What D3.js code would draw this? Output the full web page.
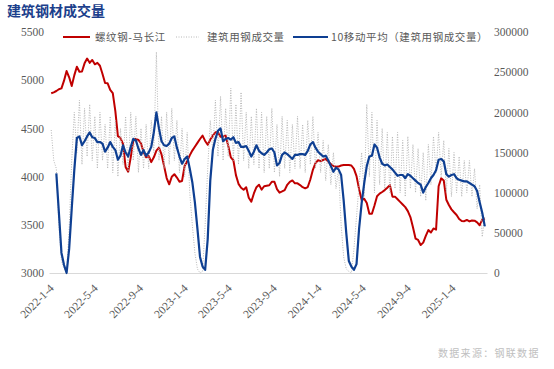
<!DOCTYPE html>
<html>
<head>
<meta charset="utf-8">
<title>建筑钢材成交量</title>
<script src="https://cdn.jsdelivr.net/npm/d3@7"></script>
<style>
  body { margin: 0; background: #fff; }
</style>
</head>
<body>
<svg id="chart" width="554" height="369"></svg>
<script>
// weekly sampling of the daily series
var dates = [
  "2022-01-04","2022-01-11","2022-01-18","2022-01-25","2022-02-01","2022-02-08","2022-02-15","2022-02-22","2022-03-01","2022-03-08",
  "2022-03-15","2022-03-22","2022-03-29","2022-04-05","2022-04-12","2022-04-19","2022-04-26","2022-05-03","2022-05-10","2022-05-17",
  "2022-05-24","2022-05-31","2022-06-07","2022-06-14","2022-06-21","2022-06-28","2022-07-05","2022-07-12","2022-07-19","2022-07-26",
  "2022-08-02","2022-08-09","2022-08-16","2022-08-23","2022-08-30","2022-09-06","2022-09-13","2022-09-20","2022-09-27","2022-10-04",
  "2022-10-11","2022-10-18","2022-10-25","2022-11-01","2022-11-08","2022-11-15","2022-11-22","2022-11-29","2022-12-06","2022-12-13",
  "2022-12-20","2022-12-27","2023-01-03","2023-01-10","2023-01-17","2023-01-24","2023-01-31","2023-02-07","2023-02-14","2023-02-21",
  "2023-02-28","2023-03-07","2023-03-14","2023-03-21","2023-03-28","2023-04-04","2023-04-11","2023-04-18","2023-04-25","2023-05-02",
  "2023-05-09","2023-05-16","2023-05-23","2023-05-30","2023-06-06","2023-06-13","2023-06-20","2023-06-27","2023-07-04","2023-07-11",
  "2023-07-18","2023-07-25","2023-08-01","2023-08-08","2023-08-15","2023-08-22","2023-08-29","2023-09-05","2023-09-12","2023-09-19",
  "2023-09-26","2023-10-03","2023-10-10","2023-10-17","2023-10-24","2023-10-31","2023-11-07","2023-11-14","2023-11-21","2023-11-28",
  "2023-12-05","2023-12-12","2023-12-19","2023-12-26","2024-01-02","2024-01-09","2024-01-16","2024-01-23","2024-01-30","2024-02-06",
  "2024-02-13","2024-02-20","2024-02-27","2024-03-05","2024-03-12","2024-03-19","2024-03-26","2024-04-02","2024-04-09","2024-04-16",
  "2024-04-23","2024-04-30","2024-05-07","2024-05-14","2024-05-21","2024-05-28","2024-06-04","2024-06-11","2024-06-18","2024-06-25",
  "2024-07-02","2024-07-09","2024-07-16","2024-07-23","2024-07-30","2024-08-06","2024-08-13","2024-08-20","2024-08-27","2024-09-03",
  "2024-09-10","2024-09-17","2024-09-24","2024-10-01","2024-10-08","2024-10-15","2024-10-22","2024-10-29","2024-11-05","2024-11-12",
  "2024-11-19","2024-11-26","2024-12-03","2024-12-10","2024-12-17","2024-12-24","2024-12-31","2025-01-07","2025-01-14","2025-01-21",
  "2025-01-28","2025-02-04","2025-02-11","2025-02-18","2025-02-25","2025-03-04","2025-03-11","2025-03-18","2025-03-25","2025-04-01"
];

// 螺纹钢-马长江 (left axis, yuan/t)
var rebarPrice = [
  4864,4874,4888,4906,4915,4995,5095,5030,4940,5050,
  5140,5088,5090,5175,5225,5180,5210,5165,5180,5150,
  5065,4970,4968,4900,4865,4680,4420,4400,4340,4100,
  4050,4200,4375,4392,4380,4345,4255,4200,4215,4150,
  4200,4270,4300,4230,4110,3985,3920,3999,4025,3990,
  3947,3955,4110,4160,4220,4270,4310,4350,4390,4425,
  4370,4330,4383,4425,4460,4460,4414,4414,4425,4320,
  4200,4170,4015,3925,3885,3863,3890,3780,3740,3825,
  3890,3915,3865,3900,3905,3910,3947,3947,3870,3833,
  3846,3860,3915,3945,3960,3930,3930,3912,3890,3878,
  3892,3970,4070,4140,4170,4160,4172,4183,4155,4130,
  4110,4103,4104,4115,4120,4120,4120,4115,4080,4005,
  3870,3757,3770,3725,3615,3615,3700,3796,3823,3840,
  3860,3885,3912,3792,3792,3765,3738,3710,3683,3642,
  3580,3475,3357,3343,3290,3315,3385,3445,3420,3462,
  3450,3900,3982,3960,3760,3705,3660,3630,3602,3560,
  3540,3538,3550,3535,3545,3543,3525,3495,3552,3567
];

// 建筑用钢成交量 (right axis, tonnes)
var tradeVol = [
  178000,140000,130000,60000,15000,5000,2000,55000,140000,200000,
  150000,215000,135000,205000,145000,210000,140000,195000,130000,200000,
  140000,185000,130000,195000,125000,190000,120000,180000,135000,195000,
  125000,200000,140000,195000,125000,180000,130000,185000,130000,190000,
  150000,275000,140000,195000,130000,200000,135000,205000,140000,190000,
  125000,180000,120000,175000,100000,60000,25000,5000,0,2000,
  60000,130000,190000,150000,215000,145000,220000,140000,205000,145000,
  230000,140000,210000,135000,225000,140000,200000,130000,195000,135000,
  205000,130000,200000,125000,195000,130000,205000,125000,185000,120000,
  195000,130000,190000,125000,185000,130000,195000,130000,185000,125000,
  190000,135000,195000,130000,175000,125000,165000,115000,160000,110000,
  150000,105000,130000,60000,20000,5000,2000,0,30000,70000,
  110000,150000,95000,210000,120000,200000,100000,190000,110000,180000,
  105000,175000,100000,170000,105000,175000,100000,165000,95000,170000,
  105000,160000,100000,155000,95000,150000,90000,160000,110000,170000,
  125000,175000,120000,165000,100000,155000,95000,150000,100000,145000,
  95000,140000,100000,140000,95000,130000,80000,110000,45000,70000
];

// 10移动平均（建筑用钢成交量） (right axis)
var tradeVolMA = [
  null,null,124000,75000,25000,10000,0,30000,80000,128000,
  168000,170000,159000,164000,170000,175000,169000,168000,163000,163000,
  161000,151000,156000,163000,157000,153000,141000,146000,159000,150000,
  145000,157000,167000,165000,155000,147000,153000,146000,150000,157000,
  175000,200000,180000,164000,159000,158000,161000,168000,170000,156000,
  145000,136000,142000,145000,130000,113000,88000,55000,20000,8000,
  4000,42000,115000,153000,167000,177000,180000,164000,167000,168000,
  166000,169000,162000,163000,157000,157000,158000,152000,145000,151000,
  159000,152000,149000,147000,150000,154000,155000,150000,134000,137000,
  147000,150000,148000,145000,142000,147000,147000,148000,148000,147000,
  152000,160000,163000,156000,151000,148000,145000,146000,140000,133000,
  126000,131000,129000,122000,90000,50000,15000,8000,4000,11000,
  55000,87000,112000,133000,145000,146000,160000,156000,144000,136000,
  134000,135000,132000,129000,125000,121000,122000,122000,118000,123000,
  121000,118000,115000,112000,110000,100000,107000,112000,118000,122000,
  128000,141000,142000,139000,123000,120000,122000,123000,118000,116000,
  115000,114000,114000,112000,110000,108000,102000,88000,75000,58000
];

var xTickLabels = ["2022-1-4","2022-5-4","2022-9-4","2023-1-4","2023-5-4",
                   "2023-9-4","2024-1-4","2024-5-4","2024-9-4","2025-1-4"];
var leftTicks = [3000, 3500, 4000, 4500, 5000, 5500];
var rightTicks = [0, 50000, 100000, 150000, 200000, 250000, 300000];

var serif = "'Liberation Serif', 'Times New Roman', serif";
var cjk = "'Noto Sans CJK SC', sans-serif";

var parseDay = function(s) {
  var p = s.split("-");
  return new Date(+p[0], +p[1] - 1, +p[2]);
};

var svg = d3.select("#chart"),
    plot = {left: 49, right: 487, top: 32, bottom: 273};

var x = d3.scaleTime()
    .domain([parseDay("2021-12-29"), parseDay("2025-04-07")])
    .range([plot.left, plot.right]);
var yL = d3.scaleLinear().domain([3000, 5500]).range([plot.bottom, plot.top]);
var yR = d3.scaleLinear().domain([0, 300000]).range([plot.bottom, plot.top]);

var days = dates.map(parseDay);

// axes
var gx = svg.append("g")
    .attr("transform", "translate(0," + plot.bottom + ")")
    .call(d3.axisBottom(x).tickValues(xTickLabels.map(parseDay)).tickSize(0)
      .tickFormat(function(d, i) { return xTickLabels[i]; }));
gx.select(".domain").attr("stroke", "#d9d9d9");
gx.selectAll("text")
    .attr("y", 0).attr("dy", 0)
    .attr("text-anchor", "end")
    .attr("transform", "translate(3,16) rotate(-45)");

var gl = svg.append("g")
    .attr("transform", "translate(" + plot.left + ",0)")
    .call(d3.axisLeft(yL).tickValues(leftTicks).tickSize(0).tickPadding(5).tickFormat(d3.format("d")));
gl.select(".domain").remove();

var gr = svg.append("g")
    .attr("transform", "translate(" + plot.right + ",0)")
    .call(d3.axisRight(yR).tickValues(rightTicks).tickSize(0).tickPadding(7).tickFormat(d3.format("d")));
gr.select(".domain").remove();

[gx, gl, gr].forEach(function(g) {
  g.attr("font-family", null).attr("font-size", null);
  g.selectAll("text")
    .style("font-family", serif)
    .style("font-size", "11.5px")
    .attr("fill", "#595959");
});

// series
var lineL = d3.line()
    .defined(function(d) { return d != null; })
    .x(function(d, i) { return x(days[i]); })
    .y(function(d) { return yL(d); });
var lineR = d3.line()
    .defined(function(d) { return d != null; })
    .x(function(d, i) { return x(days[i]); })
    .y(function(d) { return yR(d); });

svg.append("path").datum(rebarPrice)
    .attr("fill", "none").attr("stroke", "#c00000").attr("stroke-width", 2)
    .attr("stroke-linejoin", "round").attr("d", lineL);

svg.append("path").datum(tradeVol)
    .attr("fill", "none").attr("stroke", "#b8b8b8").attr("stroke-width", 1)
    .attr("stroke-dasharray", "1,1.5").attr("d", lineR);

svg.append("path").datum(tradeVolMA)
    .attr("fill", "none").attr("stroke", "#0e3f92").attr("stroke-width", 2.2)
    .attr("stroke-linejoin", "round").attr("d", lineR);

// title
svg.append("text")
    .attr("x", 7).attr("y", 16)
    .style("font-family", cjk)
    .style("font-size", "14px").style("font-weight", "bold")
    .attr("fill", "#1c3f8c")
    .text("建筑钢材成交量");

// legend
var legend = [
  {label: "螺纹钢-马长江", color: "#c00000", w: 2, dash: null, x0: 63, x1: 90, tx: 95},
  {label: "建筑用钢成交量", color: "#b8b8b8", w: 1, dash: "1,1.5", x0: 176, x1: 199, tx: 207},
  {label: "10移动平均（建筑用钢成交量）", color: "#0e3f92", w: 2.2, dash: null, x0: 293, x1: 328, tx: 331}
];
var lg = svg.append("g").selectAll("g").data(legend).enter().append("g");
lg.append("line")
    .attr("x1", function(d) { return d.x0; }).attr("x2", function(d) { return d.x1; })
    .attr("y1", 37).attr("y2", 37)
    .attr("stroke", function(d) { return d.color; })
    .attr("stroke-width", function(d) { return d.w; })
    .attr("stroke-dasharray", function(d) { return d.dash; });
lg.append("text")
    .attr("x", function(d) { return d.tx; }).attr("y", 41)
    .style("font-family", cjk)
    .style("font-size", "10.5px").style("letter-spacing", "0.6px")
    .attr("fill", "#595959")
    .text(function(d) { return d.label; });

// source
svg.append("text")
    .attr("x", 438).attr("y", 357)
    .style("font-family", cjk)
    .style("font-size", "10px").style("letter-spacing", "1.3px")
    .attr("fill", "#c0c0c0")
    .text("数据来源：钢联数据");
</script>
</body>
</html>
